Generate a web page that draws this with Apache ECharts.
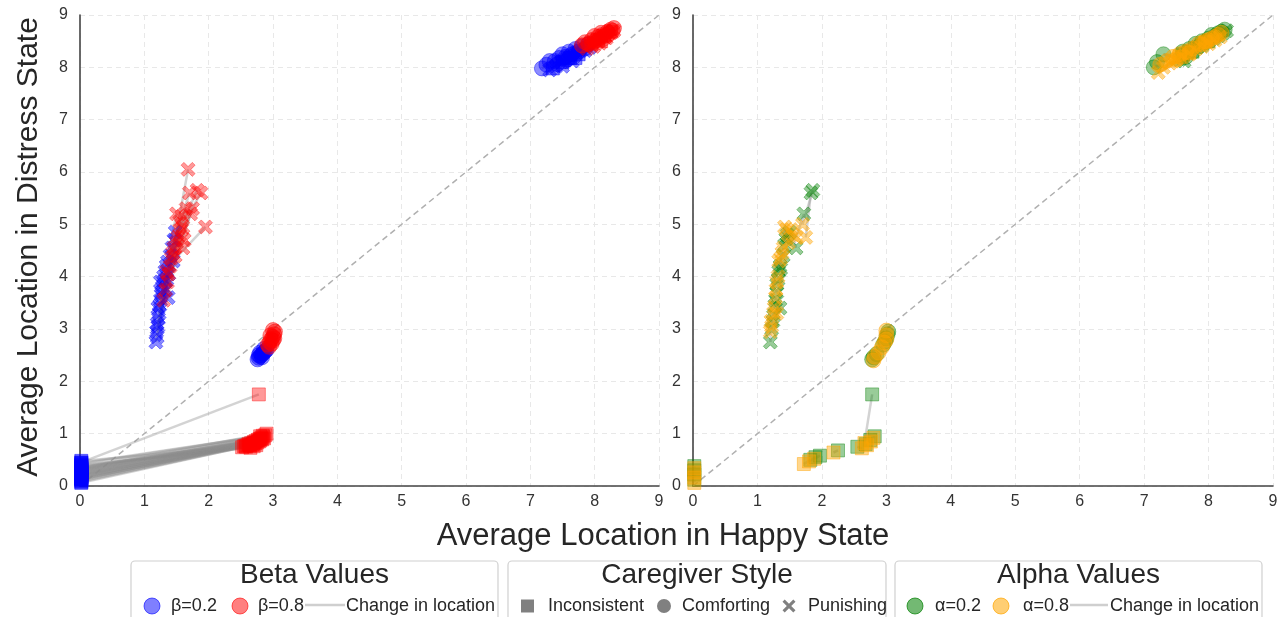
<!DOCTYPE html>
<html><head><meta charset="utf-8">
<script src="https://cdn.jsdelivr.net/npm/echarts@6/dist/echarts.min.js"></script>
<style>html,body{margin:0;padding:0;background:#fff}#c{width:1284px;height:617px}</style>
</head><body><div id="c"></div>
<script>
// ---------- Axis ticks ----------
const axisTicks = ['0','1','2','3','4','5','6','7','8','9'];
const diagonal = [[0,0],[9,9]];

// ---------- Left panel (coloured by beta) ----------
const L_inc_b02 = [[0.02,0.06],[0.02,0.08],[0.02,0.1],[0.02,0.12],[0.02,0.13],[0.02,0.15],[0.02,0.16],[0.02,0.18],[0.02,0.19],[0.02,0.2],[0.02,0.21],[0.02,0.22],[0.02,0.24],[0.02,0.25],[0.02,0.26],[0.02,0.28],[0.02,0.29],[0.02,0.3],[0.02,0.31],[0.02,0.33],[0.02,0.34],[0.02,0.36],[0.02,0.38],[0.02,0.4],[0.02,0.42],[0.02,0.45],[0.02,0.48],[0.02,0.44],
  [0.02,0.14],[0.02,0.17],[0.02,0.23],[0.02,0.27],[0.02,0.32],[0.02,0.35],
  [7.35,7.98],[7.5,8.1],[7.62,8.18],[7.75,8.25],[7.7,8.18]];
const L_inc_b08 = [[2.52,0.74],[2.55,0.76],[2.58,0.75],[2.6,0.78],[2.62,0.8],[2.64,0.77],[2.66,0.82],[2.68,0.79],[2.7,0.84],[2.72,0.81],[2.73,0.86],[2.75,0.83],[2.76,0.88],[2.78,0.85],[2.79,0.9],[2.8,0.87],[2.82,0.92],[2.83,0.89],[2.85,0.94],[2.86,0.91],[2.88,0.97],[2.9,1.0],[2.7,0.76],[2.65,0.73],[2.8,0.95],[2.78,1.75],[2.74,0.78],[2.84,0.96],
  [2.57,0.77],[2.63,0.79],[2.69,0.81],[2.71,0.83],[2.77,0.87],[2.81,0.9],
  [7.95,8.45],[8.05,8.52],[8.15,8.6],[8.25,8.68],[8.1,8.5]];
const L_com_b02 = [[2.76,2.42],[2.78,2.45],[2.8,2.48],[2.82,2.5],[2.84,2.53],[2.86,2.55],[2.88,2.58],[2.9,2.6],[2.78,2.5],[2.83,2.46],[2.8,2.55],[2.86,2.62],
  [7.18,7.98],[7.25,8.05],[7.3,8.12],[7.38,8.12],[7.45,8.18],[7.5,8.25],[7.55,8.2],[7.6,8.3],[7.65,8.25],[7.7,8.35],[7.75,8.3],[7.8,8.4],[7.85,8.36],[7.9,8.44],[7.42,8.06],[7.58,8.15]];
const L_com_b08 = [[2.92,2.7],[2.95,2.75],[2.97,2.8],[3.0,2.85],[3.02,2.9],[3.03,2.95],[2.98,2.72],[3.0,2.78],[3.02,2.82],[2.96,2.88],[2.94,2.66],[3.0,2.98],
  [7.8,8.42],[7.85,8.48],[7.9,8.45],[7.95,8.52],[8.0,8.5],[8.05,8.58],[8.08,8.55],[8.12,8.62],[8.15,8.6],[8.2,8.68],[8.22,8.64],[8.25,8.72],[8.28,8.7],[8.3,8.75],[8.0,8.6],[8.1,8.66]];
const L_pun_b02 = [[1.18,2.75],[1.2,2.85],[1.19,2.95],[1.21,3.05],[1.2,3.1],[1.22,3.2],[1.23,3.3],[1.21,3.4],[1.24,3.45],[1.25,3.55],[1.26,3.65],[1.27,3.7],[1.28,3.8],[1.3,3.9],[1.3,4.0],[1.32,4.1],[1.34,4.2],[1.36,4.28],[1.33,3.75],[1.35,3.95],[1.38,4.05],[1.4,4.4],[1.43,4.55],[1.46,4.7],[1.45,4.3],[1.48,4.85],[1.37,3.6],[1.25,3.9],
  [7.3,7.95],[7.4,8.02],[7.48,8.1],[7.55,8.14],[7.62,8.2],[7.68,8.22],[7.72,8.28],[7.78,8.32],[7.85,8.32],[7.92,8.38],[7.5,8.02],[7.65,8.12]];
const L_pun_b08 = [[1.3,3.55],[1.33,3.75],[1.36,3.9],[1.38,4.05],[1.4,4.2],[1.42,4.35],[1.44,4.45],[1.46,4.55],[1.5,4.65],[1.52,4.75],[1.55,4.8],[1.58,4.9],[1.6,4.95],[1.55,5.05],[1.62,4.7],[1.5,5.2],[1.58,5.15],[1.65,5.3],[1.72,5.2],[1.75,5.3],[1.68,6.05],[1.7,5.6],[1.82,5.65],[1.88,5.6],[1.95,4.95],[1.6,4.55],[1.48,4.4],[1.35,4.1],
  [7.88,8.36],[7.95,8.42],[8.02,8.46],[8.06,8.5],[8.12,8.54],[8.16,8.58],[8.2,8.62],[8.25,8.66],[8.3,8.7],[7.98,8.4],[8.08,8.46],[8.18,8.56]];

// ---------- Right panel (coloured by alpha) ----------
const R_inc_a02 = [[0.02,0.12],[0.02,0.22],[0.02,0.3],[0.02,0.38],[1.82,0.5],[1.9,0.55],[1.97,0.58],[2.25,0.68],[2.55,0.75],[2.68,0.8],[2.75,0.88],[2.82,0.95],[2.78,1.75],[7.6,8.25],[8.0,8.5],[7.75,8.3]];
const R_inc_a08 = [[0.02,0.06],[0.02,0.16],[0.02,0.26],[0.02,0.34],[1.72,0.42],[1.8,0.47],[1.88,0.52],[2.18,0.64],[2.62,0.72],[2.7,0.78],[2.76,0.85],[2.8,0.92],[2.66,0.82],[7.55,8.2],[7.95,8.48],[7.7,8.28]];
const R_com_a02 = [[2.78,2.42],[2.8,2.46],[2.85,2.52],[2.95,2.7],[2.98,2.76],[3.0,2.82],[3.02,2.9],[3.03,2.95],
  [7.15,8.0],[7.2,8.1],[7.3,8.25],[7.6,8.3],[7.7,8.35],[7.8,8.45],[7.9,8.5],[8.0,8.55],[8.1,8.6],[8.2,8.68],[8.25,8.72],[7.65,8.2],[7.85,8.4],[8.05,8.62],[8.15,8.65],[7.95,8.48]];
const R_com_a08 = [[2.8,2.4],[2.82,2.47],[2.88,2.55],[2.93,2.65],[2.97,2.74],[3.0,2.8],[3.0,2.88],[3.0,2.97],
  [7.25,8.05],[7.35,8.12],[7.45,8.2],[7.55,8.25],[7.65,8.3],[7.75,8.36],[7.85,8.45],[7.95,8.5],[8.05,8.55],[8.15,8.62],[8.2,8.66],[7.5,8.15],[7.7,8.28],[7.9,8.44],[8.1,8.58],[8.0,8.52]];
const R_pun_a02 = [[1.2,2.75],[1.22,3.0],[1.24,3.15],[1.25,3.25],[1.27,3.45],[1.28,3.55],[1.3,3.7],[1.3,3.85],[1.32,3.95],[1.33,4.1],[1.35,4.2],[1.36,4.15],[1.4,4.4],[1.42,4.6],[1.44,4.72],[1.46,4.8],[1.5,4.85],[1.6,4.55],[1.72,5.2],[1.83,5.6],[1.86,5.65],[1.35,3.4],
  [7.55,8.15],[7.6,8.22],[7.68,8.28],[7.75,8.3],[7.82,8.38],[7.9,8.42],[8.0,8.5],[8.08,8.55],[8.15,8.6],[8.22,8.65],[8.28,8.7],[7.62,8.12]];
const R_pun_a08 = [[1.2,2.95],[1.22,3.05],[1.21,3.15],[1.25,3.3],[1.26,3.4],[1.28,3.6],[1.29,3.75],[1.3,3.9],[1.32,4.0],[1.33,4.3],[1.38,4.45],[1.36,4.35],[1.4,4.55],[1.42,4.95],[1.45,4.9],[1.48,4.65],[1.52,4.9],[1.55,4.8],[1.6,4.75],[1.75,4.75],[1.7,5.0],[1.3,3.3],
  [7.22,7.9],[7.3,8.0],[7.4,8.08],[7.5,8.15],[7.6,8.2],[7.7,8.25],[7.8,8.35],[7.9,8.4],[8.0,8.45],[8.1,8.52],[8.18,8.58],[7.45,8.12]];

// ---------- Styling ----------
const FONT = 'Liberation Sans, Arial, sans-serif';
const C = { blue:'#0000ff', red:'#ff0000', green:'#008000', orange:'#ffa500' };
const XPATH = 'path://M0,2 L2,0 L5,3 L8,0 L10,2 L7,5 L10,8 L8,10 L5,7 L2,10 L0,8 L3,5 Z';
const SYM = { inc:{s:'rect', size:13}, com:{s:'circle', size:15}, pun:{s:XPATH, size:14} };

function scatter(data, color, kind, idx, op){
  return { type:'scatter', xAxisIndex:idx, yAxisIndex:idx, data:data, symbol:SYM[kind].s, symbolSize:SYM[kind].size,
    z:3, silent:true, itemStyle:{ color:color, borderColor:color, borderWidth:1, opacity:op } };
}
function links(a, b, idx){
  return { type:'lines', coordinateSystem:'cartesian2d', xAxisIndex:idx, yAxisIndex:idx, z:2, silent:true,
    data:a.map((p,i)=>({coords:[p,b[i]]})),
    lineStyle:{ color:'#8c8c8c', width:2.5, opacity:0.38 } };
}
function diag(idx){
  return { type:'line', xAxisIndex:idx, yAxisIndex:idx, data:diagonal, symbol:'none', z:1, silent:true,
    lineStyle:{ color:'#b0b0b0', width:1.5, type:[6,4] } };
}
function xAx(idx){
  return { type:'value', gridIndex:idx, min:0, max:9, interval:1,
    axisLine:{ show:true, lineStyle:{ color:'#444', width:1.6 } }, axisTick:{show:false},
    axisLabel:{ color:'#333', fontSize:16, fontFamily:FONT, margin:8, formatter:v=>axisTicks[v] },
    splitLine:{ show:true, lineStyle:{ color:'#e8e8e8', type:[5,4], width:1 } } };
}
function yAx(idx){
  return { type:'value', gridIndex:idx, min:0, max:9, interval:1,
    axisLine:{ show:true, onZero:false, lineStyle:{ color:'#444', width:1.6 } }, axisTick:{show:false},
    axisLabel:{ color:'#333', fontSize:16, fontFamily:FONT, margin:12, formatter:v=>axisTicks[v] },
    splitLine:{ show:true, lineStyle:{ color:'#e8e8e8', type:[5,4], width:1 } } };
}

// ---------- Legend (graphic) ----------
function legendBox(x, w, title){
  return [
    { type:'rect', shape:{x:x, y:561, width:w, height:70, r:4}, style:{fill:'#fff', stroke:'#d0d0d0', lineWidth:1.2}, z:10 },
    { type:'text', x:x+w/2, y:575, style:{ text:title, font:'28px '+FONT, fill:'#262626', align:'center', verticalAlign:'middle' }, z:11 }
  ];
}
function ltext(x, t){ return { type:'text', x:x, y:606, style:{ text:t, font:'18px '+FONT, fill:'#262626', verticalAlign:'middle' }, z:11 }; }
function lcircle(cx, fill, stroke){ return { type:'circle', shape:{cx:cx, cy:606, r:8}, style:{fill:fill, stroke:stroke, lineWidth:1}, z:11 }; }
function lline(x1, x2){ return { type:'line', shape:{x1:x1, y1:605, x2:x2, y2:605}, style:{stroke:'#cfcfcf', lineWidth:2.5}, z:11 }; }
function lx(cx){
  const s=6.5, t=2.2;
  return { type:'polygon', z:11, shape:{ points:[
    [cx-s,606-s+t],[cx-s+t,606-s],[cx,606-t],[cx+s-t,606-s],[cx+s,606-s+t],[cx+t,606],
    [cx+s,606+s-t],[cx+s-t,606+s],[cx,606+t],[cx-s+t,606+s],[cx-s,606+s-t],[cx-t,606] ] },
    style:{ fill:'#808080' } };
}

const graphic = [].concat(
  [{ type:'text', x:29, y:247, rotation:Math.PI/2, style:{ text:'Average Location in Distress State', font:'30px '+FONT, fill:'#262626', align:'center', verticalAlign:'middle' } },
   { type:'text', x:663, y:536, style:{ text:'Average Location in Happy State', font:'31px '+FONT, fill:'#262626', align:'center', verticalAlign:'middle' } }],
  legendBox(131, 367, 'Beta Values'),
  [lcircle(152,'rgba(0,0,255,0.5)','rgba(0,0,255,0.6)'), ltext(171,'β=0.2'),
   lcircle(240,'rgba(255,0,0,0.5)','rgba(255,0,0,0.6)'), ltext(258,'β=0.8'),
   lline(305,345), ltext(346,'Change in location')],
  legendBox(508, 378, 'Caregiver Style'),
  [{ type:'rect', shape:{x:521, y:599.5, width:13, height:13}, style:{fill:'#808080'}, z:11 }, ltext(548,'Inconsistent'),
   { type:'circle', shape:{cx:664, cy:606, r:7}, style:{fill:'#808080'}, z:11 }, ltext(682,'Comforting'),
   lx(789), ltext(808,'Punishing')],
  legendBox(895, 367, 'Alpha Values'),
  [lcircle(915,'rgba(0,128,0,0.55)','rgba(0,128,0,0.7)'), ltext(935,'α=0.2'),
   lcircle(1001,'rgba(255,165,0,0.55)','rgba(255,165,0,0.7)'), ltext(1023,'α=0.8'),
   lline(1070,1108), ltext(1110,'Change in location')]
);

const option = {
  backgroundColor:'#fff',
  animation:false,
  grid:[ { left:80, top:15, width:579, height:471 }, { left:693, top:15, width:580, height:471 } ],
  xAxis:[ xAx(0), xAx(1) ],
  yAxis:[ yAx(0), yAx(1) ],
  graphic: graphic,
  series:[
    diag(0), diag(1),
    links(L_inc_b02, L_inc_b08, 0), links(L_com_b02, L_com_b08, 0), links(L_pun_b02, L_pun_b08, 0),
    scatter(L_inc_b02, C.blue, 'inc', 0, 0.5), scatter(L_com_b02, C.blue, 'com', 0, 0.45), scatter(L_pun_b02, C.blue, 'pun', 0, 0.45),
    scatter(L_inc_b08, C.red, 'inc', 0, 0.4), scatter(L_com_b08, C.red, 'com', 0, 0.45), scatter(L_pun_b08, C.red, 'pun', 0, 0.4),
    links(R_inc_a02, R_inc_a08, 1), links(R_com_a02, R_com_a08, 1), links(R_pun_a02, R_pun_a08, 1),
    scatter(R_inc_a02, C.green, 'inc', 1, 0.4), scatter(R_com_a02, C.green, 'com', 1, 0.4), scatter(R_pun_a02, C.green, 'pun', 1, 0.4),
    scatter(R_inc_a08, C.orange, 'inc', 1, 0.45), scatter(R_com_a08, C.orange, 'com', 1, 0.45), scatter(R_pun_a08, C.orange, 'pun', 1, 0.45)
  ]
};
echarts.init(document.getElementById('c'), null, {renderer:'canvas'}).setOption(option);
</script></body></html>
